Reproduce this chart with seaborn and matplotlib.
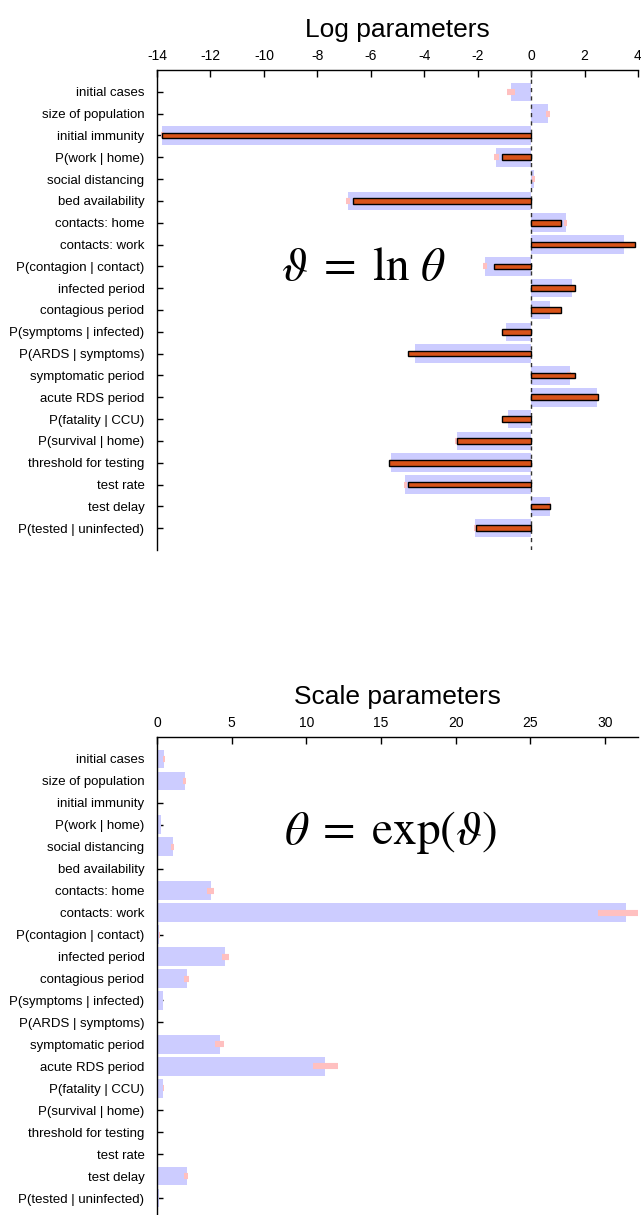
import numpy as np
import pandas as pd
import matplotlib
matplotlib.use("Agg")
import matplotlib.pyplot as plt
import seaborn as sns

# ---------------- data ----------------
labels = [
    "initial cases", "size of population", "initial immunity", "P(work | home)",
    "social distancing", "bed availability", "contacts: home", "contacts: work",
    "P(contagion | contact)", "infected period", "contagious period",
    "P(symptoms | infected)", "P(ARDS | symptoms)", "symptomatic period",
    "acute RDS period", "P(fatality | CCU)", "P(survival | home)",
    "threshold for testing", "test rate", "test delay", "P(tested | uninfected)",
]

# log parameters: posterior (blue), prior (orange), credible interval (pink)
log_post = [-0.75, 0.625, -13.8, -1.33, 0.12, -6.85, 1.31, 3.46, -1.74, 1.54, 0.70,
            -0.94, -4.34, 1.45, 2.45, -0.85, -2.79, -5.25, -4.71, 0.71, -2.09]
log_prior = [np.nan, np.nan, -13.8, -1.09, np.nan, -6.66, 1.11, 3.875, -1.375, 1.625, 1.11,
             -1.075, -4.6, 1.625, 2.5, -1.075, -2.78, -5.31, -4.6, 0.71, -2.08]
log_ci_lo = [-0.89, 0.56, -13.85, -1.39, 0.04, -6.94, 1.22, 3.38, -1.80, 1.47, 0.59,
             -0.98, -4.40, 1.36, 2.35, -0.89, -2.86, -5.30, -4.76, 0.61, -2.13]
log_ci_hi = [-0.59, 0.71, -13.75, -1.22, 0.16, -6.76, 1.36, 3.47, -1.66, 1.58, 0.75,
             -0.90, -4.30, 1.50, 2.49, -0.81, -2.72, -5.20, -4.64, 0.74, -2.04]

# scale parameters: posterior (blue), credible interval (pink)
scale_post = [0.49, 1.85, 0.0, 0.29, 1.09, 0.001, 3.64, 31.4, 0.16, 4.58, 1.99,
              0.38, 0.013, 4.24, 11.25, 0.42, 0.06, 0.005, 0.009, 1.99, 0.12]
scale_ci_lo = [0.38, 1.72, 0.0, 0.25, 0.96, 0.001, 3.37, 29.5, 0.16, 4.33, 1.81,
               0.37, 0.012, 3.9, 10.45, 0.41, 0.056, 0.005, 0.0086, 1.83, 0.12]
scale_ci_hi = [0.54, 1.96, 0.0, 0.30, 1.16, 0.001, 3.84, 32.2, 0.19, 4.84, 2.12,
               0.41, 0.014, 4.5, 12.1, 0.44, 0.066, 0.0055, 0.0097, 2.10, 0.13]

log_ticks = [-14, -12, -10, -8, -6, -4, -2, 0, 2, 4]
scale_ticks = [0, 5, 10, 15, 20, 25, 30]

BLUE = "#ccccff"
PINK = "#ffc0c0"
ORANGE = "#d95319"

# ---------------- style ----------------
sns.set_theme(style="white")
plt.rcParams["font.family"] = ["Liberation Sans", "DejaVu Sans"]
plt.rcParams["mathtext.fontset"] = "stix"
plt.rcParams["axes.unicode_minus"] = False
plt.rcParams["text.color"] = "black"

fig = plt.figure(figsize=(6.41, 12.15), dpi=100)
W, H = 641.0, 1215.0
ax1 = fig.add_axes([157 / W, 1 - 550 / H, 481 / W, 480 / H])
ax2 = fig.add_axes([157 / W, 1 - 1220 / H, 481 / W, 483 / H])

df_log = pd.DataFrame({"param": labels, "post": log_post, "prior": log_prior,
                       "lo": log_ci_lo, "hi": log_ci_hi})
df_scale = pd.DataFrame({"param": labels, "post": scale_post,
                         "lo": scale_ci_lo, "hi": scale_ci_hi})
pos = np.arange(len(labels))

# ---- top panel ----
sns.barplot(data=df_log, x="post", y="param", order=labels, orient="h",
            color=BLUE, saturation=1, width=0.85, linewidth=0, errorbar=None,
            ax=ax1, zorder=1)
ax1.hlines(pos, df_log["lo"], df_log["hi"], color=PINK, lw=4.4, zorder=2)
ax1.axvline(0, color="#333333", lw=1, ls=(0, (3, 3)), zorder=3)
sns.barplot(data=df_log.dropna(subset=["prior"]), x="prior", y="param", order=labels,
            orient="h", color=ORANGE, saturation=1, width=0.26, edgecolor="black",
            linewidth=1, errorbar=None, ax=ax1, zorder=4)
ax1.set_xlim(-14, 4)
ax1.set_xticks(log_ticks)
ax1.set_title("Log parameters", fontsize=19, pad=9, color="black")

# ---- bottom panel ----
sns.barplot(data=df_scale, x="post", y="param", order=labels, orient="h",
            color=BLUE, saturation=1, width=0.85, linewidth=0, errorbar=None,
            ax=ax2, zorder=1)
ax2.hlines(pos, df_scale["lo"], df_scale["hi"], color=PINK, lw=4.4, zorder=2)
ax2.set_xlim(0, 32.2)
ax2.set_xticks(scale_ticks)
ax2.set_title("Scale parameters", fontsize=19, pad=9, color="black")

for ax in (ax1, ax2):
    ax.set_ylim(len(labels), -1)
    ax.set_xlabel("")
    ax.set_ylabel("")
    ax.xaxis.tick_top()
    ax.xaxis.set_label_position("top")
    for s in ("right", "bottom"):
        ax.spines[s].set_visible(False)
    for s in ("top", "left"):
        ax.spines[s].set_visible(True)
        ax.spines[s].set_color("black")
        ax.spines[s].set_linewidth(1)
    ax.tick_params(axis="x", which="both", direction="in", length=5, width=1,
                   top=True, bottom=False, labeltop=True, labelbottom=False,
                   labelsize=10, pad=5, colors="black")
    ax.tick_params(axis="y", direction="in", length=4, width=1, left=True,
                   labelsize=9.5, pad=9, colors="black")
    ax.set_facecolor("white")

fig.text(363 / W, 1 - 268 / H, r"$\vartheta\;=\;\ln\,\theta$", fontsize=34,
         ha="center", va="center", color="black")
fig.text(391 / W, 1 - 832 / H, r"$\theta\;=\;\exp(\vartheta)$", fontsize=34,
         ha="center", va="center", color="black")

fig.savefig("out.png", dpi=100, facecolor="white")
